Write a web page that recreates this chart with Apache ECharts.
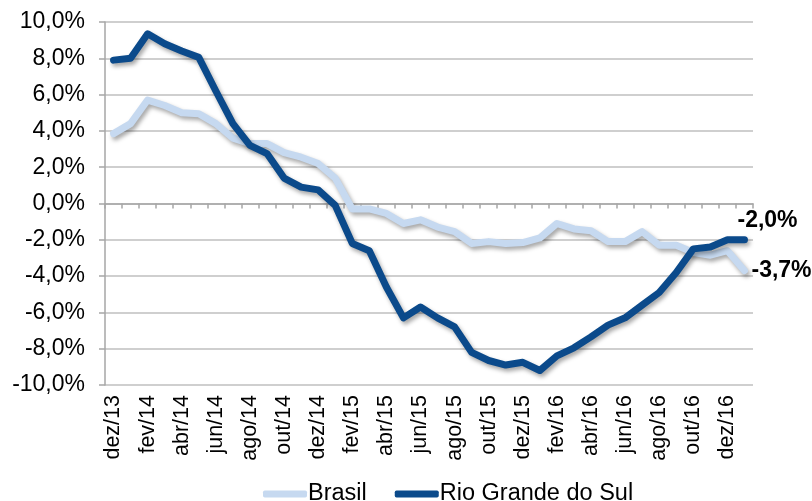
<!DOCTYPE html>
<html>
<head>
<meta charset="utf-8">
<script src="https://cdn.jsdelivr.net/npm/echarts@6/dist/echarts.min.js"></script>
<style>
  html, body { margin: 0; padding: 0; background: #fff; }
  #chart { width: 812px; height: 501px; }
</style>
</head>
<body>
<div id="chart"></div>
<script>
// meses
const categories = [
  'dez/13', 'jan/14', 'fev/14', 'mar/14', 'abr/14', 'mai/14', 'jun/14', 'jul/14', 'ago/14', 'set/14', 'out/14', 'nov/14',
  'dez/14', 'jan/15', 'fev/15', 'mar/15', 'abr/15', 'mai/15', 'jun/15', 'jul/15', 'ago/15', 'set/15', 'out/15', 'nov/15',
  'dez/15', 'jan/16', 'fev/16', 'mar/16', 'abr/16', 'mai/16', 'jun/16', 'jul/16', 'ago/16', 'set/16', 'out/16', 'nov/16',
  'dez/16', 'jan/17'
];
const brasil = [
  3.85, 4.4, 5.7, 5.4, 5.0, 4.95, 4.4, 3.6, 3.3, 3.3, 2.8, 2.55,
  2.2, 1.4, -0.3, -0.3, -0.55, -1.1, -0.9, -1.3, -1.55, -2.2, -2.1, -2.2,
  -2.15, -1.9, -1.1, -1.4, -1.5, -2.1, -2.1, -1.55, -2.3, -2.3, -2.7, -2.85,
  -2.6, -3.7
];
const rioGrande = [
  7.9, 8.0, 9.35, 8.8, 8.4, 8.05, 6.2, 4.4, 3.2, 2.75, 1.4, 0.9,
  0.75, -0.1, -2.2, -2.6, -4.6, -6.3, -5.7, -6.3, -6.8, -8.2, -8.65, -8.9,
  -8.75, -9.2, -8.4, -7.95, -7.35, -6.7, -6.3, -5.6, -4.9, -3.8, -2.5, -2.4,
  -2.0, -2.0
];

const FONT = '"Liberation Sans", Arial, sans-serif';
const pct = v => v.toFixed(1).replace('.', ',') + '%';

const chart = echarts.init(document.getElementById('chart'));

// rótulo no último ponto
function lastLabel(offset) {
  return {
    show: true,
    offset: offset,
    distance: 5,
    color: '#000',
    fontFamily: FONT,
    fontSize: 23,
    fontWeight: 'bold',
    formatter: p => pct(p.value)
  };
}

const shadow = {
  shadowColor: 'rgba(0,0,0,0.35)',
  shadowBlur: 4,
  shadowOffsetX: 2,
  shadowOffsetY: 3
};

chart.setOption({
  animation: false,
  backgroundColor: '#fff',
  grid: { left: 105, right: 59, top: 22, bottom: 116 },
  legend: {
    left: 258,
    top: 477,
    itemWidth: 44,
    itemHeight: 7,
    itemGap: 28,
    icon: 'roundRect',
    textStyle: { fontFamily: FONT, fontSize: 23.5, color: '#000', padding: [0, 0, 0, -4] },
    data: ['Brasil', 'Rio Grande do Sul']
  },
  xAxis: [
    {
      // eixo no zero, só com marcas
      type: 'category',
      data: categories,
      position: 'top',
      boundaryGap: true,
      axisLine: { onZero: true, lineStyle: { color: '#A6A6A6', width: 1.5 } },
      axisTick: { show: true, inside: true, length: 5, interval: 0, lineStyle: { color: '#A6A6A6', width: 1.5 } },
      axisLabel: { show: false },
      splitLine: { show: false }
    },
    {
      type: 'category',
      data: categories,
      position: 'bottom',
      boundaryGap: true,
      axisLine: { show: false },
      axisTick: { show: false },
      axisLabel: {
        interval: 1,
        rotate: 90,
        margin: 10,
        color: '#000',
        fontFamily: FONT,
        fontSize: 21.5
      },
      splitLine: { show: false }
    }
  ],
  yAxis: {
    type: 'value',
    min: -10,
    max: 10,
    interval: 2,
    axisLine: { show: true, lineStyle: { color: '#A6A6A6', width: 1.5 } },
    axisTick: { show: true, length: 6, lineStyle: { color: '#A6A6A6', width: 1.5 } },
    axisLabel: {
      formatter: pct,
      margin: 20,
      color: '#000',
      fontFamily: FONT,
      fontSize: 23
    },
    splitLine: { show: true, lineStyle: { color: '#BFBFBF', width: 1.5 } }
  },
  series: [
    {
      name: 'Brasil',
      type: 'line',
      xAxisIndex: 1,
      data: brasil,
      symbol: 'none',
      color: '#C6D9F0',
      lineStyle: { width: 7, color: '#C6D9F0', cap: 'round', join: 'round', ...shadow },
      endLabel: lastLabel([2, 0])
    },
    {
      name: 'Rio Grande do Sul',
      type: 'line',
      xAxisIndex: 1,
      data: rioGrande,
      symbol: 'none',
      color: '#0B4A8B',
      lineStyle: { width: 7, color: '#0B4A8B', cap: 'round', join: 'round', ...shadow },
      endLabel: lastLabel([-12, -19])
    }
  ]
});
</script>
</body>
</html>
